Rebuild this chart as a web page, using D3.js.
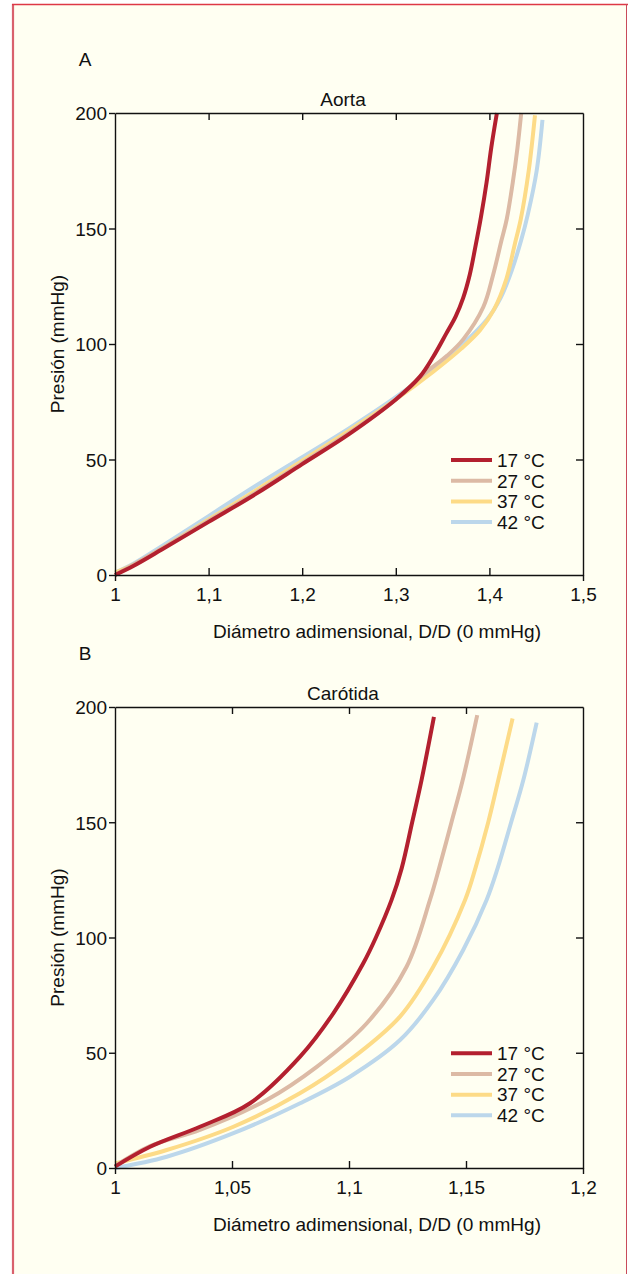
<!DOCTYPE html>
<html>
<head>
<meta charset="utf-8">
<script src="https://cdn.jsdelivr.net/npm/d3@7"></script>
<style>
  html, body { margin: 0; padding: 0; background: #ffffff; }
  svg text { font-family: "Liberation Sans", Arial, sans-serif; fill: #111; }
</style>
</head>
<body>
<svg id="chart" width="628" height="1274"></svg>
<script>
// ---------- DATA ----------
const seriesNames = ["17 °C", "27 °C", "37 °C", "42 °C"];
const seriesColors = ["#b3202f", "#dcbaa5", "#fddb87", "#bcd7eb"];

// Panel A: Aorta  (diameter D/D0, pressure mmHg)
const aortaD17 = [1.0, 1.02, 1.05, 1.1, 1.15, 1.2, 1.25, 1.3, 1.326, 1.34, 1.354, 1.364, 1.372, 1.379, 1.385, 1.391, 1.397, 1.402, 1.408];
const aortaP17 = [0, 4, 11, 23, 35, 48, 61, 76, 86, 94.5, 104.6, 112, 120, 130, 142, 155, 170, 185, 200];
const aortaD27 = [1.0, 1.02, 1.05, 1.1, 1.15, 1.2, 1.25, 1.3, 1.33, 1.355, 1.372, 1.3935, 1.404, 1.413, 1.4185, 1.425, 1.43, 1.434];
const aortaP27 = [0, 4.5, 11.5, 23.5, 35.5, 48.5, 61.5, 76, 87, 95, 102, 116, 130, 145, 154, 170, 185, 200];
const aortaD37 = [1.0, 1.02, 1.05, 1.1, 1.15, 1.2, 1.25, 1.3, 1.34, 1.37, 1.39, 1.405, 1.418, 1.427, 1.4335, 1.442, 1.4487];
const aortaP37 = [1, 4.5, 11.5, 24, 36.5, 49.5, 62.5, 76, 88, 98, 106, 115, 128, 143, 154, 175, 199];
const aortaD42 = [1.0, 1.02, 1.05, 1.1, 1.15, 1.2, 1.25, 1.3, 1.34, 1.369, 1.397, 1.412, 1.424, 1.434, 1.441, 1.4505, 1.4567];
const aortaP42 = [1, 5, 12.5, 25.5, 38.5, 51, 63.5, 77, 89, 99, 110.4, 120, 132, 145, 156, 175, 197];

// Panel B: Carótida
const carD17 = [1.0, 1.015, 1.0363, 1.0577, 1.0791, 1.0933, 1.1061, 1.1115, 1.1182, 1.1225, 1.127, 1.131, 1.1363];
const carP17 = [0.6, 9.2, 17.9, 28.1, 48.3, 67.1, 88.8, 100, 116.3, 130, 150, 168.3, 195.7];
const carD27 = [1.0, 1.015, 1.0363, 1.0648, 1.0862, 1.1076, 1.1246, 1.1346, 1.1385, 1.1438, 1.1486, 1.1548];
const carP27 = [0.8, 9.5, 16.5, 29.5, 43.9, 62.8, 87.3, 116.3, 130, 150, 168.3, 196.5];
const carD37 = [1.0, 1.0221, 1.0506, 1.079, 1.1004, 1.1218, 1.136, 1.1496, 1.154, 1.1595, 1.1638, 1.1699];
const carP37 = [2, 7.8, 17.9, 32.4, 46.9, 65.7, 87.3, 116.3, 130, 150, 168.3, 195];
const carD42 = [1.0, 1.0221, 1.0506, 1.0791, 1.1004, 1.1218, 1.136, 1.1488, 1.1588, 1.1635, 1.1693, 1.1745, 1.1802];
const carP42 = [0, 4.9, 15.1, 28.1, 39.6, 55.5, 72.9, 94.6, 116.3, 130, 150, 168.3, 193.2];

const aortaXTicks = [1, 1.1, 1.2, 1.3, 1.4, 1.5];
const carXTicks = [1, 1.05, 1.1, 1.15, 1.2];
const yTicks = [0, 50, 100, 150, 200];

const xLabel = "Diámetro adimensional, D/D (0 mmHg)";
const yLabel = "Presión (mmHg)";

// ---------- DRAW ----------
const svg = d3.select("#chart");

// frame
svg.append("rect").attr("x", 13).attr("y", 4).attr("width", 614).attr("height", 1290)
  .attr("fill", "#fffff2");
svg.append("line").attr("x1", 13).attr("x2", 13).attr("y1", 4).attr("y2", 1274)
  .attr("stroke", "#d9616d").attr("stroke-width", 2.2);
svg.append("line").attr("x1", 12).attr("x2", 628).attr("y1", 4.5).attr("y2", 4.5)
  .attr("stroke", "#de3846").attr("stroke-width", 1.6);
svg.append("line").attr("x1", 626.5).attr("x2", 626.5).attr("y1", 4).attr("y2", 1274)
  .attr("stroke", "#c94b5a").attr("stroke-width", 1);

const comma = v => String(v).replace(".", ",");

function zip(ds, ps) { return ds.map((d, i) => [d, ps[i]]); }

function panel(cfg) {
  const { left, right, top, bottom, xDomain, xTicks, title, letter, series } = cfg;
  const x = d3.scaleLinear().domain(xDomain).range([left, right]);
  const y = d3.scaleLinear().domain([0, 200]).range([bottom, top]);
  const g = svg.append("g");

  // letter
  g.append("text").attr("x", 85).attr("y", top - 47).attr("text-anchor", "middle")
    .attr("font-size", 19).text(letter);
  // title
  g.append("text").attr("x", 343).attr("y", top - 7).attr("text-anchor", "middle")
    .attr("font-size", 19).text(title);

  // curves
  const line = d3.line().x(d => x(d[0])).y(d => y(d[1])).curve(d3.curveCatmullRom.alpha(0.5));
  const order = [3, 2, 1, 0];
  order.forEach(i => {
    g.append("path").datum(series[i]).attr("d", line)
      .attr("fill", "none").attr("stroke", seriesColors[i]).attr("stroke-width", 4)
      .attr("stroke-linecap", "butt");
  });

  // axes
  const axB = d3.axisBottom(x).tickValues(xTicks).tickSizeInner(-7).tickSizeOuter(0).tickFormat(comma).tickPadding(13);
  const axT = d3.axisTop(x).tickValues(xTicks).tickSizeInner(-7).tickSizeOuter(0).tickFormat("");
  const axL = d3.axisLeft(y).tickValues(yTicks).tickSizeInner(6).tickSizeOuter(0).tickPadding(2);
  const axR = d3.axisRight(y).tickValues(yTicks).tickSizeInner(-7).tickSizeOuter(0).tickFormat("");

  const gb = g.append("g").attr("transform", `translate(0,${bottom})`).call(axB);
  const gt = g.append("g").attr("transform", `translate(0,${top})`).call(axT);
  const gl = g.append("g").attr("transform", `translate(${left},0)`).call(axL);
  const gr = g.append("g").attr("transform", `translate(${right},0)`).call(axR);
  [gb, gt, gl, gr].forEach(a => {
    a.select(".domain").attr("stroke", "#111").attr("stroke-width", 1.4);
    a.selectAll(".tick line").attr("stroke", "#111").attr("stroke-width", 1.4);
    a.selectAll("text").attr("font-size", 19).attr("fill", "#111")
      .attr("font-family", "\"Liberation Sans\", Arial, sans-serif");
  });
  gt.selectAll(".tick").filter(d => d === xTicks[0] || d === xTicks[xTicks.length - 1]).select("line").remove();
  gr.selectAll(".tick").filter(d => d === 0 || d === 200).select("line").remove();
  gb.selectAll(".tick").filter(d => d === xTicks[0] || d === xTicks[xTicks.length - 1]).select("line")
    .attr("y2", 6);
  gl.selectAll(".tick text").attr("dy", "0.36em");

  // axis labels
  g.append("text").attr("x", 377).attr("y", bottom + 63).attr("text-anchor", "middle")
    .attr("font-size", 19).attr("textLength", 328).attr("lengthAdjust", "spacingAndGlyphs").text(xLabel);
  g.append("text").attr("transform", `translate(64,${(top + bottom) / 2}) rotate(-90)`)
    .attr("text-anchor", "middle").attr("font-size", 19).text(yLabel);

  // legend
  const lx1 = 451, lx2 = 492;
  const ly0 = y(50) + 0.5;
  seriesNames.forEach((n, i) => {
    const yy = ly0 + i * 20.7;
    g.append("line").attr("x1", lx1).attr("x2", lx2).attr("y1", yy).attr("y2", yy)
      .attr("stroke", seriesColors[i]).attr("stroke-width", 4);
    g.append("text").attr("x", 497).attr("y", yy).attr("dy", "0.36em").attr("font-size", 19).text(n);
  });
}

panel({
  left: 115, right: 583, top: 113, bottom: 575, xDomain: [1, 1.5], xTicks: aortaXTicks,
  title: "Aorta", letter: "A",
  series: [zip(aortaD17, aortaP17), zip(aortaD27, aortaP27), zip(aortaD37, aortaP37), zip(aortaD42, aortaP42)]
});
panel({
  left: 115, right: 583, top: 707, bottom: 1168, xDomain: [1, 1.2], xTicks: carXTicks,
  title: "Carótida", letter: "B",
  series: [zip(carD17, carP17), zip(carD27, carP27), zip(carD37, carP37), zip(carD42, carP42)]
});
</script>
</body>
</html>
